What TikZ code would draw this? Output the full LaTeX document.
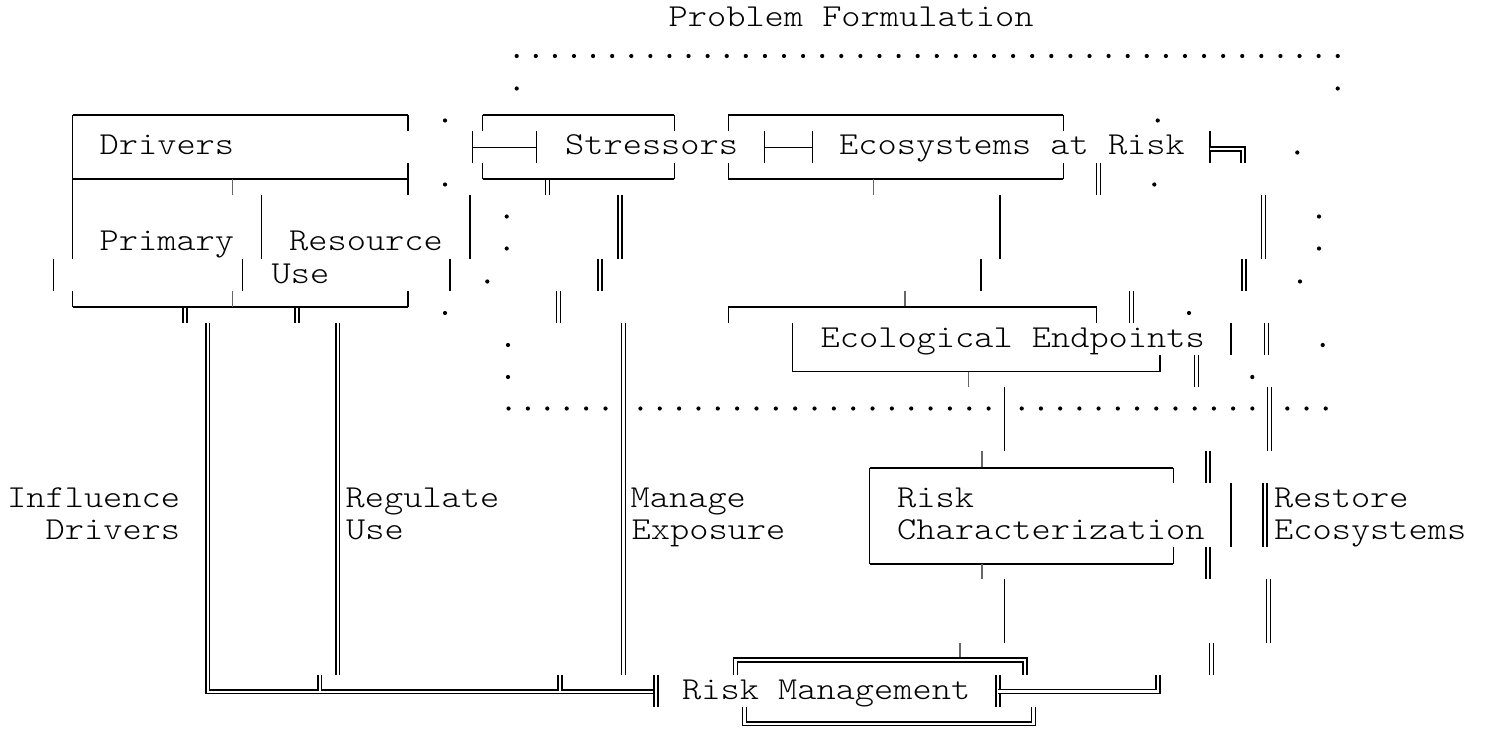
\documentclass[tikz,border=0pt]{standalone}
\usepackage{fontspec}
\newfontfamily\asciifont[FakeStretch=1.143]{Latin Modern Mono Light}
\usetikzlibrary{positioning}
\tikzset{
  label text/.style={anchor=base west, inner sep=0pt, font=\asciifont\fontsize{32}{32}\selectfont},
  hl/.style={line width=1.9pt},
  vl/.style={line width=1.3pt},
  tk/.style={line width=1.4pt, black!60},
  dl/.style={double, double distance=2.6pt, line width=1.25pt},
}
\begin{document}
\begin{tikzpicture}[x=1pt,y=-1pt]
\useasboundingbox (0,0) rectangle (1488,730);

\node[label text] (probform) at (668.5,27) {Problem Formulation};
\node[label text] (drivers) at (99.5,155) {Drivers};
\node[label text] (stressors) at (565,155) {Stressors};
\node[label text] (ecosys) at (839,155) {Ecosystems at Risk};
\node[label text] (primary) at (99.5,251) {Primary};
\node[label text] (resource) at (289,251) {Resource};
\node[label text] (resuse) at (271.5,283) {Use};
\node[label text] (endpoints) at (820.5,347) {Ecological Endpoints};
\node[label text] (influence) at (7,507) {Influence};
\node[label text] (influence2) at (45.5,539) {Drivers};
\node[label text] (regulate) at (345.5,507) {Regulate};
\node[label text] (regulate2) at (346,539) {Use};
\node[label text] (manage) at (630.5,507) {Manage};
\node[label text] (manage2) at (631.5,539) {Exposure};
\node[label text] (riskchar) at (897,507) {Risk};
\node[label text] (riskchar2) at (897,539) {Characterization};
\node[label text] (restore) at (1274,507) {Restore};
\node[label text] (restore2) at (1274,539) {Ecosystems};
\node[label text] (riskmgmt) at (682,699) {Risk Management};

\draw[hl] (72.7,115) -- (408,115);
\draw[vl] (72.7,115) -- (72.7,259);
\draw[vl] (408,115) -- (408,131);
\draw[hl] (72.7,179) -- (408,179);
\draw[vl] (408,163) -- (408,195);
\draw[tk] (232.7,179) -- (232.7,195);
\draw[vl] (261.7,195) -- (261.7,259);
\draw[vl] (470,195) -- (470,259);
\draw[vl] (53.3,259) -- (53.3,291);
\draw[vl] (242.7,259) -- (242.7,291);
\draw[vl] (450,259) -- (450,291);
\draw[vl] (72.7,291) -- (72.7,307);
\draw[hl] (72.7,307) -- (408,307);
\draw[vl] (408,291) -- (408,307);
\draw[tk] (232.7,291) -- (232.7,307);
\draw[dl] (185,308) -- (185,323);
\draw[dl] (297,308) -- (297,323);

\draw[hl] (482.7,115) -- (674.3,115);
\draw[vl] (482.7,115) -- (482.7,131);
\draw[vl] (674.3,115) -- (674.3,131);
\draw[vl] (472.7,131) -- (472.7,163);
\draw[hl] (472.7,147.5) -- (536.7,147.5);
\draw[vl] (536.7,131) -- (536.7,163);
\draw[vl] (482.7,163) -- (482.7,179);
\draw[hl] (482.7,179) -- (674.3,179);
\draw[vl] (674.3,163) -- (674.3,179);
\draw[dl] (547.3,180) -- (547.3,195);

\draw[hl] (728.3,115) -- (1063.3,115);
\draw[vl] (728.3,115) -- (728.3,131);
\draw[vl] (1063.3,115) -- (1063.3,131);
\draw[vl] (764.3,131) -- (764.3,163);
\draw[hl] (764.3,147.5) -- (812.3,147.5);
\draw[vl] (812.3,131) -- (812.3,163);
\draw[vl] (728.3,163) -- (728.3,179);
\draw[hl] (728.3,179) -- (1063.3,179);
\draw[vl] (1063.3,163) -- (1063.3,179);
\draw[tk] (873.3,179) -- (873.3,195);
\draw[vl] (1210,131) -- (1210,163);
\draw[dl] (1210,149) -- (1243,149) -- (1243,163);
\draw[dl] (1098.3,163) -- (1098.3,195);

\draw[dl] (620,195) -- (620,259);
\draw[vl] (1000,195) -- (1000,259);
\draw[dl] (1263.3,195) -- (1263.3,259);
\draw[dl] (600,259) -- (600,291);
\draw[vl] (981,259) -- (981,291);
\draw[dl] (1244,259) -- (1244,291);
\draw[dl] (558.3,291) -- (558.3,323);
\draw[dl] (1131.7,291) -- (1131.7,323);

\draw[tk] (905,291) -- (905,307);
\draw[hl] (728.3,307) -- (1096.7,307);
\draw[vl] (728.3,307) -- (728.3,323);
\draw[vl] (1096.7,307) -- (1096.7,323);
\draw[vl] (792.7,323) -- (792.7,371.5);
\draw[hl] (792.7,371.5) -- (1160,371.5);
\draw[vl] (1160,355) -- (1160,371.5);
\draw[tk] (968.3,371.5) -- (968.3,387);
\draw[vl] (1231,323) -- (1231,355);
\draw[dl] (1266.7,323) -- (1266.7,355);
\draw[dl] (1196.7,355) -- (1196.7,387);
\draw[vl] (1004.5,387) -- (1004.5,451);
\draw[dl] (1269.3,387) -- (1269.3,451);

\draw[dl] (1208,451) -- (1208,483);
\draw[tk] (982,451) -- (982,467.7);
\draw[hl] (869.6,467.7) -- (1173.3,467.7);
\draw[vl] (869.6,467.7) -- (869.6,564);
\draw[vl] (1173.3,467.7) -- (1173.3,483);
\draw[vl] (1231,483) -- (1231,547);
\draw[dl] (1265,483) -- (1265,547);
\draw[hl] (869.6,564) -- (1173.3,564);
\draw[vl] (1173.3,547) -- (1173.3,564);
\draw[tk] (982,564) -- (982,579);
\draw[dl] (1208,547) -- (1208,579);
\draw[vl] (1004.3,579) -- (1004.3,643);
\draw[dl] (1268.3,579) -- (1268.3,643);
\draw[dl] (1211.7,643) -- (1211.7,675);

\draw[dl] (207.9,323) -- (207.9,691.8) -- (656,691.8);
\draw[dl] (656,675) -- (656,707);
\draw[dl] (319.8,675) -- (319.8,691);
\draw[dl] (560,675) -- (560,691);
\draw[dl] (337.8,323) -- (337.8,675);
\draw[dl] (623.2,323) -- (623.2,675);

\draw[tk] (960,643) -- (960,658);
\draw[dl] (735.7,675) -- (735.7,660) -- (1025,660) -- (1025,675);
\draw[dl] (744.6,707) -- (744.6,723.8) -- (1033.6,723.8) -- (1033.6,707);
\draw[dl] (998,675) -- (998,707);
\draw[dl] (998,691.7) -- (1158,691.7) -- (1158,675);

\foreach \i in {0,...,43} \fill ({516.7+19.093*\i},56) circle (2.1pt);
\foreach \x/\y in {516.7/88.5, 1337.7/88.5, 445/120.5, 1157.7/120.5, 1297.3/152.5,
  445/184.5, 1154.3/184.5, 506.7/216.5, 1319/216.5, 506.7/248.5, 1319/248.5,
  487.3/281.5, 1300/281.5, 445/313, 1189/313, 508/345, 1322.7/345, 508/377, 1252.3/377}
  \fill (\x,\y) circle (2.1pt);
\foreach \i in {0,...,5} \fill ({508.5+19.4*\i},408.5) circle (2.1pt);
\foreach \i in {0,...,18} \fill ({640.4+19.344*\i},408.5) circle (2.1pt);
\foreach \i in {0,...,12} \fill ({1021.7+19.22*\i},408.5) circle (2.1pt);
\foreach \i in {0,1,2} \fill ({1287.3+19.2*\i},408.5) circle (2.1pt);
\end{tikzpicture}
\end{document}
